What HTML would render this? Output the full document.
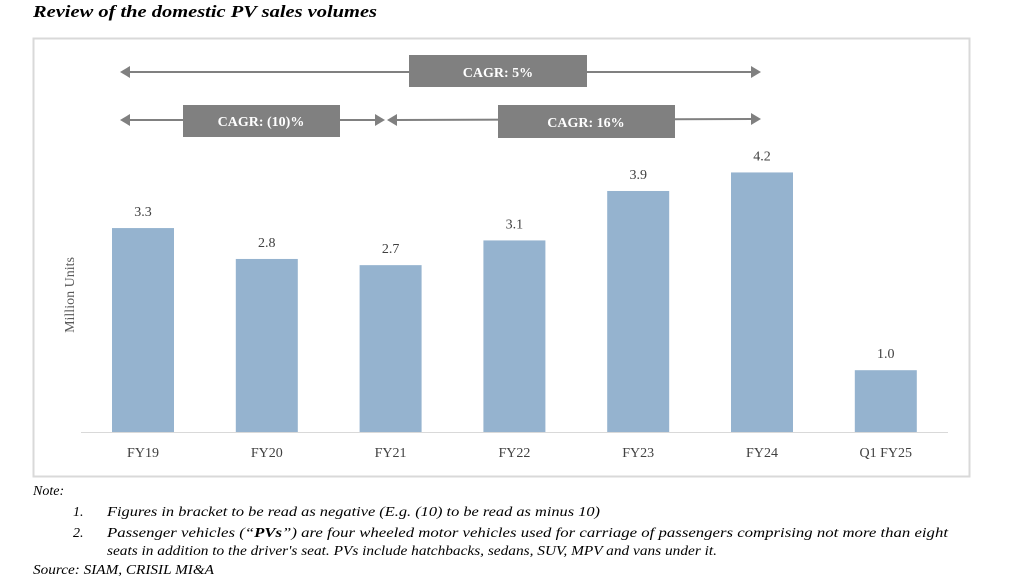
<!DOCTYPE html>
<html><head><meta charset="utf-8"><style>
html,body{margin:0;padding:0;background:#fff;}
svg{display:block;}
text{font-family:"Liberation Serif",serif;}
</style></head><body>
<svg id="chart" width="1024" height="585" viewBox="0 0 1024 585">
<text x="33" y="17" font-size="17" font-weight="bold" font-style="italic" fill="#000" textLength="344" lengthAdjust="spacingAndGlyphs">Review of the domestic PV sales volumes</text>
<rect x="33.5" y="38.5" width="936" height="438" fill="#fff" stroke="#d9d9d9" stroke-width="2"/>
<line x1="81" y1="432.5" x2="948" y2="432.5" stroke="#d9d9d9" stroke-width="1"/>
<text transform="translate(74,295) rotate(-90)" text-anchor="middle" font-size="14" fill="#595959">Million Units</text>
<g id="bars"></g>
<g id="cagr" fill="#808080" stroke="#808080">
  <g>
    <line x1="128" y1="72" x2="752" y2="72" stroke-width="2"/>
    <polygon points="120,72 130,66 130,78" stroke="none"/>
    <polygon points="761,72 751,66 751,78" stroke="none"/>
    <rect x="409" y="55" width="178" height="32" stroke="none"/>
    <text x="498" y="77" text-anchor="middle" font-size="14" font-weight="bold" fill="#fff" stroke="none">CAGR:  5%</text>
  </g>
  <g>
    <line x1="128" y1="120" x2="377" y2="120" stroke-width="2"/>
    <polygon points="120,120 130,114 130,126" stroke="none"/>
    <polygon points="385,120 375,114 375,126" stroke="none"/>
    <rect x="183" y="105" width="157" height="32" stroke="none"/>
    <text x="261" y="126" text-anchor="middle" font-size="14" font-weight="bold" fill="#fff" stroke="none">CAGR: (10)%</text>
  </g>
  <g>
    <line x1="395" y1="120" x2="752" y2="119" stroke-width="2"/>
    <polygon points="387,120 397,114 397,126" stroke="none"/>
    <polygon points="761,119 751,113 751,125" stroke="none"/>
    <rect x="498" y="105" width="177" height="33" stroke="none"/>
    <text x="586" y="127" text-anchor="middle" font-size="14" font-weight="bold" fill="#fff" stroke="none">CAGR: 16%</text>
  </g>
</g>
<g font-style="italic" font-size="14" fill="#000">
  <text x="33" y="495">Note:</text>
  <text x="73" y="516">1.</text>
  <text x="107" y="516" textLength="493" lengthAdjust="spacingAndGlyphs">Figures in bracket to be read as negative (E.g. (10) to be read as minus 10)</text>
  <text x="73" y="537">2.</text>
  <text x="107" y="537" textLength="841" lengthAdjust="spacingAndGlyphs">Passenger vehicles (“<tspan font-weight="bold">PVs</tspan>”) are four wheeled motor vehicles used for carriage of passengers comprising not more than eight</text>
  <text x="107" y="555" textLength="610" lengthAdjust="spacingAndGlyphs">seats in addition to the driver's seat. PVs include hatchbacks, sedans, SUV, MPV and vans under it.</text>
  <text x="33" y="574" textLength="181" lengthAdjust="spacingAndGlyphs">Source: SIAM, CRISIL MI&amp;A</text>
</g>
</svg>
<script>
const categories = ["FY19","FY20","FY21","FY22","FY23","FY24","Q1 FY25"];
const values = [3.3, 2.8, 2.7, 3.1, 3.9, 4.2, 1.0];
const valueLabels = ["3.3","2.8","2.7","3.1","3.9","4.2","1.0"];

const NS = "http://www.w3.org/2000/svg";
const baseY = 432, pxPerUnit = 61.8, firstX = 143, step = 123.8, barW = 62;
function xScale(i){ return firstX + i*step; }
function yScale(v){ return baseY - v*pxPerUnit; }
const g = document.getElementById("bars");
categories.forEach((c,i)=>{
  const cx = xScale(i), top = yScale(values[i]);
  const r = document.createElementNS(NS,"rect");
  
  
  r.setAttribute("x", cx - barW/2); r.setAttribute("y", top);
  r.setAttribute("width", barW); r.setAttribute("height", baseY - top);
  r.setAttribute("fill", "#95b3cf");
  g.appendChild(r);
  const t = document.createElementNS(NS,"text");
  
  
  t.setAttribute("x", cx); t.setAttribute("y", top - 12);
  t.setAttribute("text-anchor","middle"); t.setAttribute("font-size","14"); t.setAttribute("fill","#404040");
  t.textContent = valueLabels[i];
  g.appendChild(t);
  const l = document.createElementNS(NS,"text");
  
  
  l.setAttribute("x", cx); l.setAttribute("y", 457);
  l.setAttribute("text-anchor","middle"); l.setAttribute("font-size","14"); l.setAttribute("fill","#404040");
  l.textContent = c;
  g.appendChild(l);
});
</script>
</body></html>
